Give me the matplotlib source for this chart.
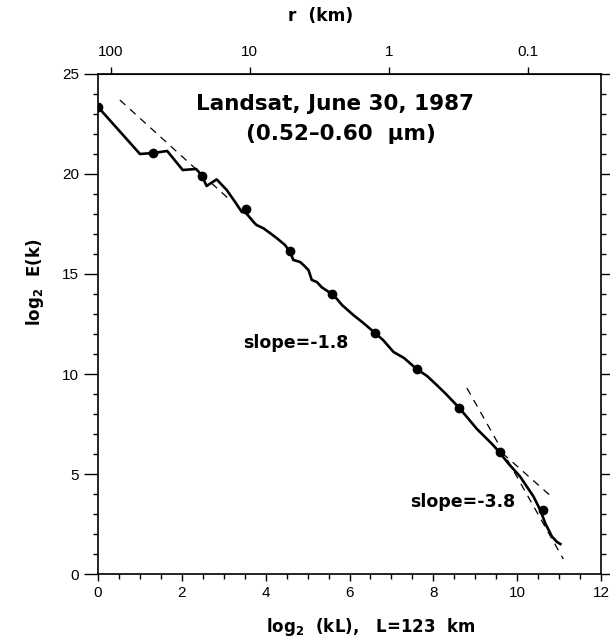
"""Landsat energy spectrum, log2 E(k) vs log2(kL)."""

import matplotlib
matplotlib.use("Agg")
import matplotlib.pyplot as plt
import numpy as np
from matplotlib.ticker import MultipleLocator

plt.rcParams["font.family"] = ["Liberation Sans", "DejaVu Sans"]
plt.rcParams["mathtext.fontset"] = "dejavusans"

L_KM = 123.0

# spectrum curve
curve_x = [0.0, 1.0, 1.32, 1.65, 2.02, 2.34, 2.47, 2.59, 2.83, 3.07, 3.27,
           3.43, 3.53, 3.71, 3.78, 3.95, 4.1, 4.26, 4.46, 4.58, 4.66, 4.82,
           4.9, 5.02, 5.1, 5.22, 5.34, 5.58, 5.7, 5.82, 6.09, 6.3, 6.61,
           6.8, 7.05, 7.3, 7.6, 7.85, 8.08, 8.3, 8.62, 9.04, 9.16, 9.4,
           9.59, 9.8, 10.07, 10.39, 10.55, 10.67, 10.83, 10.95, 11.03]
curve_y = [23.35, 21.0, 21.05, 21.15, 20.2, 20.25, 19.95, 19.4, 19.73, 19.2,
           18.6, 18.1, 18.05, 17.6, 17.45, 17.28, 17.05, 16.8, 16.45, 16.1,
           15.7, 15.6, 15.45, 15.2, 14.7, 14.6, 14.33, 14.0, 13.75, 13.45,
           12.95, 12.6, 12.05, 11.7, 11.1, 10.8, 10.25, 9.9, 9.45, 9.0, 8.3,
           7.25, 7.0, 6.5, 6.05, 5.5, 4.87, 3.87, 3.2, 2.53, 1.87, 1.6, 1.5]

# dot markers on the curve
dot_x = [0.0, 1.32, 2.47, 3.53, 4.58, 5.58, 6.61, 7.6, 8.62, 9.59, 10.61]
dot_y = [23.35, 21.05, 19.9, 18.25, 16.15, 14.0, 12.05, 10.25, 8.3, 6.1, 3.2]

# dashed fit segments
fit1_x = [0.52, 3.15]
fit1_y = [23.7, 18.7]
fit1b_x = [9.4, 10.8]
fit1b_y = [6.5, 3.9]
fit2_x = [8.8, 11.1]
fit2_y = [9.3, 0.75]

# top axis ticks, r in km
r_ticks = [100, 10, 1, 0.1]
r_labels = ["100", "10", "1", "0.1"]

bold = dict(family="DejaVu Sans", fontweight="bold")

fig = plt.figure(figsize=(6.1, 6.4), dpi=100)
ax = fig.add_axes([0.1607, 0.1031, 0.8246, 0.7813])

ax.plot(curve_x, curve_y, color="black", lw=1.9, solid_joinstyle="round")
ax.plot(dot_x, dot_y, "o", color="black", ms=6)
for fx, fy in [(fit1_x, fit1_y), (fit1b_x, fit1b_y), (fit2_x, fit2_y)]:
    ax.plot(fx, fy, color="black", lw=0.9, dashes=(6, 5))

ax.set_xlim(0, 12)
ax.set_ylim(0, 25)
ax.xaxis.set_major_locator(MultipleLocator(2))
ax.xaxis.set_minor_locator(MultipleLocator(0.5))
ax.yaxis.set_major_locator(MultipleLocator(5))
ax.yaxis.set_minor_locator(MultipleLocator(1))
ax.tick_params(which="both", direction="out", right=True, top=False,
               labelsize=11, width=1)
ax.tick_params(axis="x", which="major", length=5)
ax.tick_params(axis="x", which="minor", length=3.5)
ax.tick_params(axis="y", which="major", length=10)
ax.tick_params(axis="y", which="minor", length=3.5)
for s in ax.spines.values():
    s.set_linewidth(1.2)

top = ax.secondary_xaxis("top")
top.set_xticks(np.log2(L_KM / np.array(r_ticks)), labels=r_labels)
top.tick_params(direction="out", length=5, width=1, labelsize=11, pad=6)

ax.text(5.66, 23.5, "Landsat, June 30, 1987", ha="center", va="center",
        fontsize=15.5, **bold)
ax.text(5.8, 22.0, "(0.52\u20130.60  \u03bcm)", ha="center", va="center",
        fontsize=15.5, **bold)
ax.text(3.46, 11.55, "slope=-1.8", ha="left", va="center",
        fontsize=12.5, **bold)
ax.text(7.45, 3.6, "slope=-3.8", ha="left", va="center",
        fontsize=12.5, **bold)

fig.text(0.608, 0.012, r"$\mathbf{log_2}$  (kL),   L=123  km", ha="center",
         va="baseline", fontsize=12, **bold)
fig.text(0.057, 0.559, r"$\mathbf{log_2}$  E(k)", ha="center", va="center",
         rotation=90, fontsize=12, **bold)
fig.text(0.525, 0.975, "r  (km)", ha="center", va="center",
         fontsize=12.3, **bold)

fig.savefig("out.png", dpi=100)
